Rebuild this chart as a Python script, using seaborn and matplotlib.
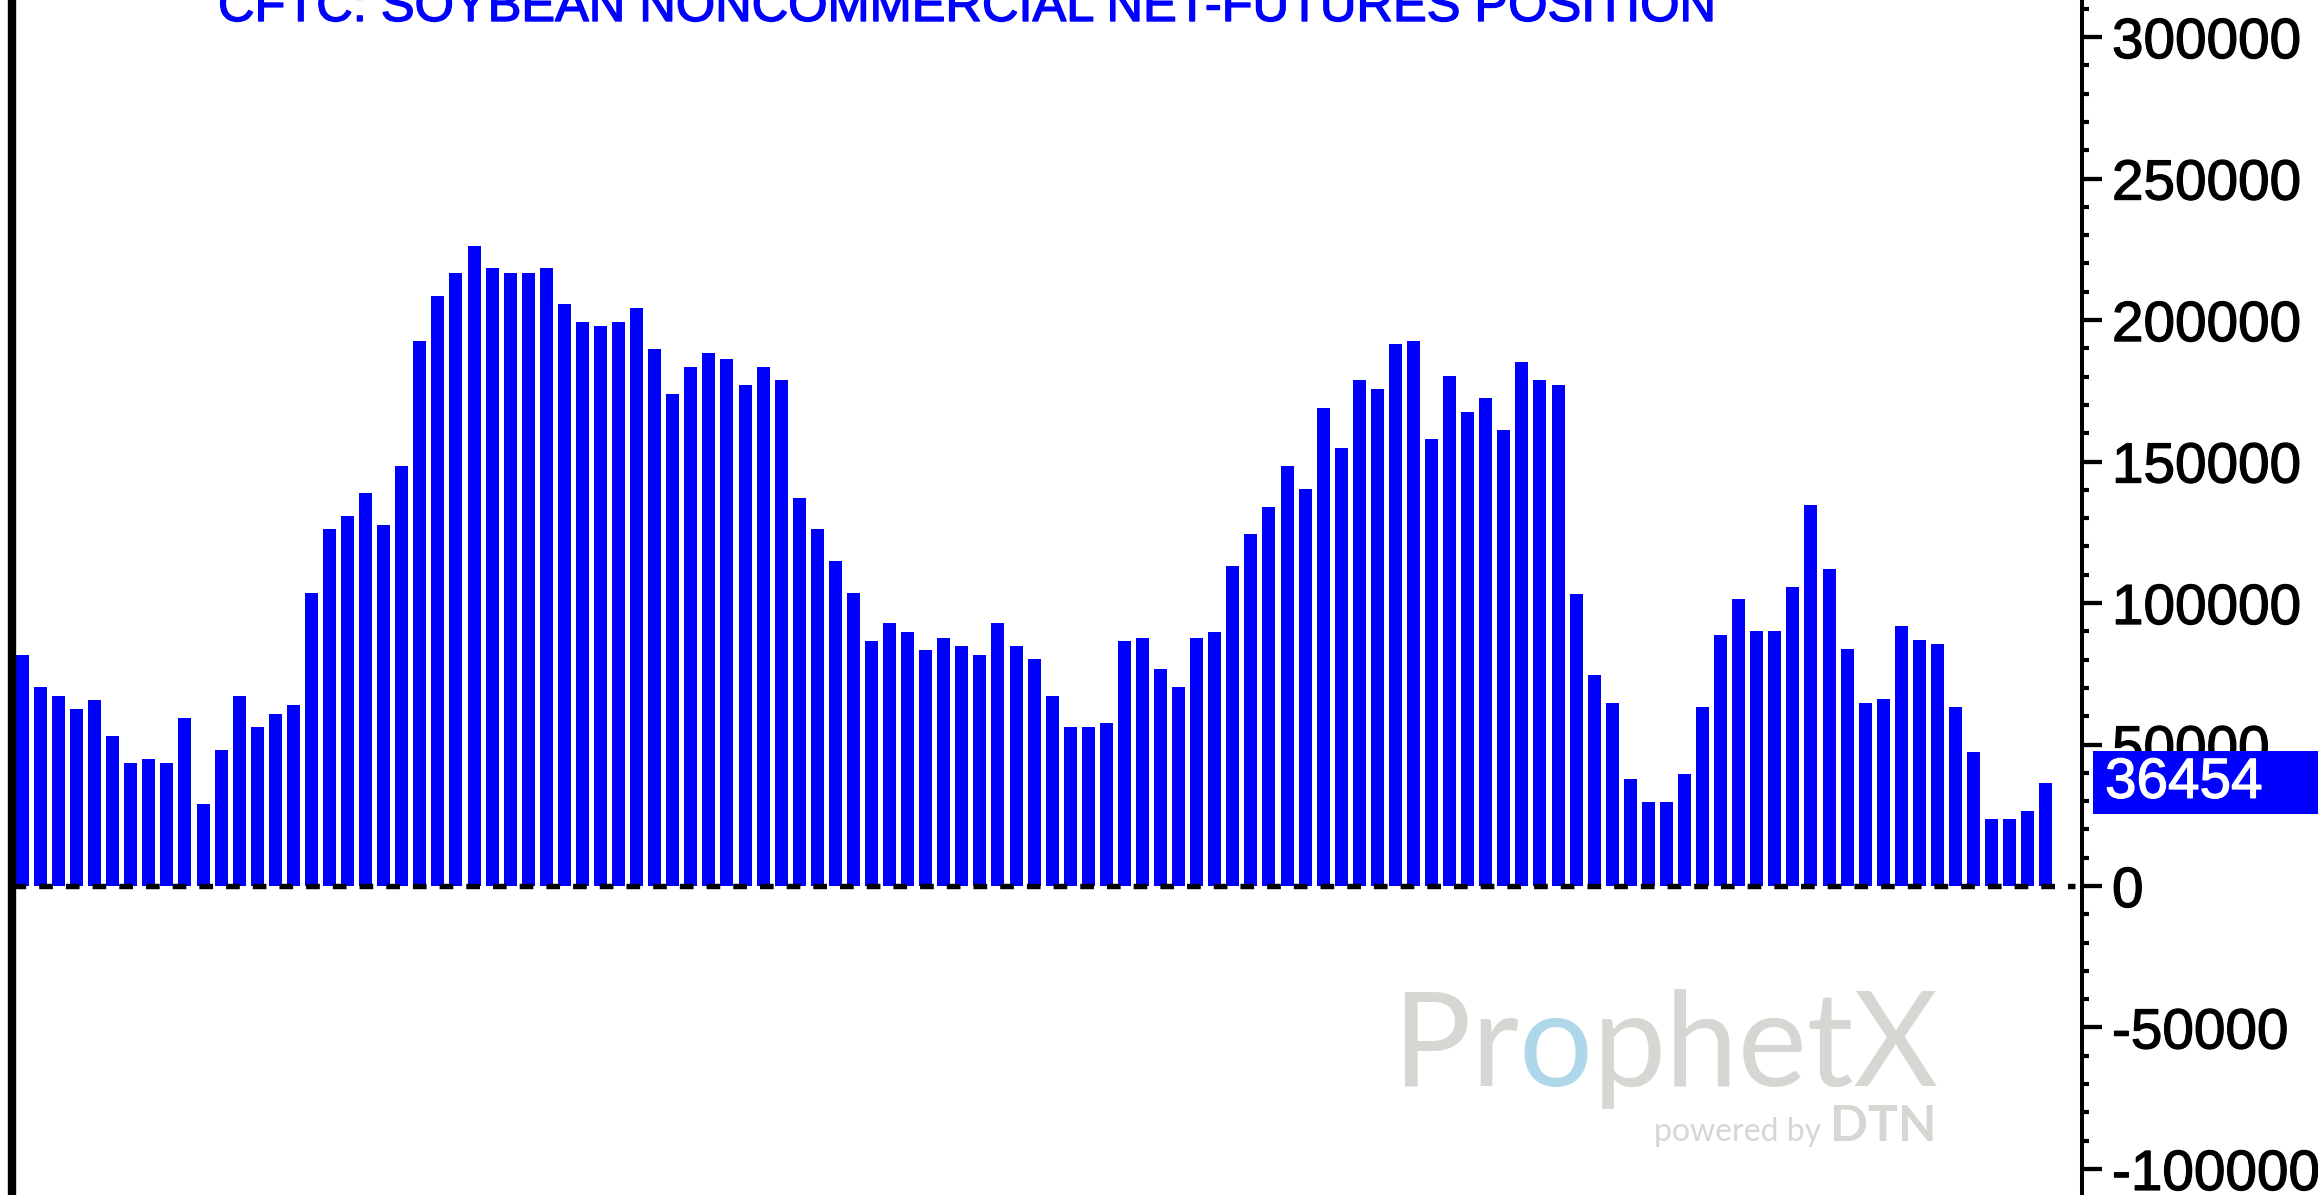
import matplotlib
matplotlib.use("Agg")
import matplotlib.pyplot as plt
import matplotlib.patheffects as pe
from matplotlib.patches import Rectangle
from matplotlib.transforms import blended_transform_factory
from matplotlib.ticker import MultipleLocator, StrMethodFormatter
import pandas as pd
import seaborn as sns

# Weekly CFTC soybean non-commercial net futures position (contracts)
net_position = [
    81500, 70300, 67100, 62600, 65600, 53000, 43500, 45000, 43500, 59300,
    29100, 48000, 67100, 56100, 60800, 63900, 103600, 126300, 130800, 138900,
    127700, 148400, 192700, 208600, 216800, 226200, 218500, 216800, 216800, 218500,
    205500, 199200, 197800, 199200, 204100, 189700, 173800, 183400, 188200, 186400,
    176900, 183400, 178700, 137100, 126300, 115000, 103600, 86500, 92800, 89600,
    83300, 87800, 84700, 81500, 92800, 84700, 80200, 67100, 56100, 56100,
    57600, 86500, 87800, 76600, 70300, 87800, 89600, 113200, 124500, 134100,
    148400, 140400, 168800, 154700, 178700, 175600, 191500, 192700, 158000, 180100,
    167500, 172400, 161100, 185100, 178700, 176900, 103200, 74700, 64800, 37800,
    29800, 29800, 39600, 63100, 88700, 101300, 90100, 90100, 105800, 134600,
    112100, 83700, 64800, 66200, 91800, 86900, 85500, 63100, 47300, 23500,
    23500, 26600, 36454,
]
week = list(range(len(net_position)))
chart_title = "CFTC: SOYBEAN NONCOMMERCIAL NET-FUTURES POSITION"
y_major_step = 50000
y_minor_step = 10000

W, H = 2318, 1195
BLUE = "#0000FF"
GREY = "#D4D7D2"

sns.set_style("white")
plt.rcParams["font.family"] = ["Liberation Sans", "DejaVu Sans"]
plt.rcParams["axes.unicode_minus"] = False
plt.rcParams["lines.scale_dashes"] = False

fig = plt.figure(figsize=(W / 100, H / 100), dpi=100)
fig.patch.set_facecolor("white")
ax = fig.add_axes([11.5 / W, 0, (2082 - 11.5) / W, 1])
ax.set_facecolor("white")

df = pd.DataFrame({"week": week, "net": net_position})
sns.barplot(data=df, x="week", y="net", color=BLUE, saturation=1,
            width=0.72, linewidth=0, ax=ax, zorder=2)

ax.set_xlim(-0.6, 114.0)
ax.set_ylim(-109200, 313100)
ax.set_xticks([])
ax.set_xlabel("")
ax.set_ylabel("")
ax.grid(False)

# right-hand value axis
ax.yaxis.tick_right()
ax.yaxis.set_major_locator(MultipleLocator(y_major_step))
ax.yaxis.set_minor_locator(MultipleLocator(y_minor_step))
ax.yaxis.set_major_formatter(StrMethodFormatter("{x:.0f}"))
ax.tick_params(axis="y", which="major", direction="out", length=14.4,
               width=3.1, pad=7.2, labelsize=40.8, colors="black",
               left=False, right=True)
ax.tick_params(axis="y", which="minor", direction="out", length=5.0,
               width=3.0, left=False, right=True, color="black")

heavy_black = [pe.withStroke(linewidth=0.9, foreground="black")]
for lbl in ax.get_yticklabels():
    lbl.set_path_effects(heavy_black)

for side in ("top", "bottom"):
    ax.spines[side].set_visible(False)
ax.spines["left"].set_visible(True)
ax.spines["left"].set_linewidth(6.0)
ax.spines["left"].set_color("black")
ax.spines["right"].set_visible(True)
ax.spines["right"].set_linewidth(2.9)
ax.spines["right"].set_color("black")

# dashed zero line
ax.plot([-0.6, 113.62], [0, 0], color="black", lw=3.9,
        dashes=(9.86, 9.36), solid_capstyle="butt", zorder=3)

# last value marker box on the axis
last_val = net_position[-1]
blend = blended_transform_factory(fig.transFigure, ax.transData)
box_h = 22150
ax.add_patch(Rectangle((2093 / W, last_val - box_h / 2), 1 - 2093 / W, box_h,
                       transform=blend, facecolor=BLUE, edgecolor="none",
                       clip_on=False, zorder=5))
ax.text(2105 / W, last_val, f"{last_val:.0f}", transform=blend, color="white",
        fontsize=40.8, va="center", ha="left", zorder=6, clip_on=False,
        path_effects=[pe.withStroke(linewidth=0.9, foreground="white")])

# title
fig.text(218 / W, 1 - 21 / H, chart_title, color=BLUE, fontsize=36.4,
         ha="left", va="baseline",
         path_effects=[pe.withStroke(linewidth=1.0, foreground=BLUE)])

# watermark
wm_font = ["Lato", "DejaVu Sans"]
t1 = fig.text(1393 / W, 1 - 1086 / H, "Pr", color=GREY, fontsize=94,
              family=wm_font, ha="left", va="baseline", zorder=1)
o_txt = ax.annotate("o", xy=(1, 0), xycoords=t1, color="#AED8EA",
                    fontsize=94, family=wm_font, ha="left", va="bottom",
                    annotation_clip=False)
ax.annotate("phetX", xy=(1, 0), xycoords=o_txt, color=GREY, fontsize=94,
            family=wm_font, ha="left", va="bottom", annotation_clip=False)
fig.text(1654 / W, 1 - 1141 / H, "powered by", color=GREY, fontsize=23,
         family=wm_font, ha="left", va="baseline")
fig.text(1830 / W, 1 - 1141 / H, "DTN", color=GREY, fontsize=36,
         family=wm_font, fontweight="bold", ha="left", va="baseline")

fig.savefig("out.png", dpi=100, facecolor="white")
